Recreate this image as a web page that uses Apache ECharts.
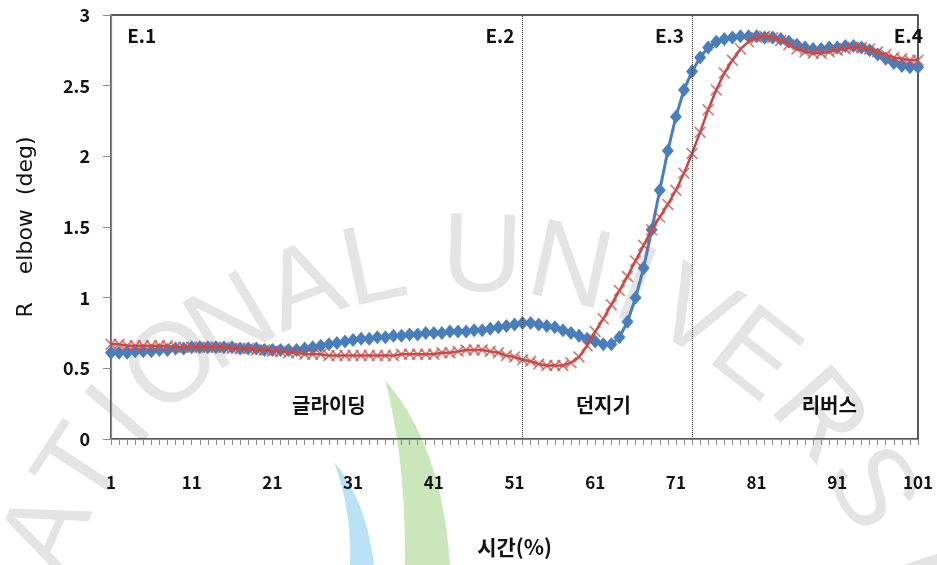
<!DOCTYPE html>
<html>
<head>
<meta charset="utf-8">
<script src="https://cdn.jsdelivr.net/npm/echarts@6/dist/echarts.min.js"></script>
<style>
  html, body { margin: 0; padding: 0; background: #fff; }
  #chart { width: 937px; height: 565px; }
</style>
</head>
<body>
<div id="chart"></div>
<script>
// Time axis: 1 … 101 (% of motion)
const categories = Array.from({ length: 101 }, (_, i) => String(i + 1));

// Right elbow angle, series with diamond markers
const seriesA = [
  0.61, 0.61, 0.61, 0.62, 0.62, 0.62, 0.63, 0.63, 0.64, 0.64,
  0.65, 0.65, 0.65, 0.65, 0.65, 0.65, 0.64, 0.64, 0.64, 0.63,
  0.63, 0.63, 0.63, 0.63, 0.64, 0.65, 0.66, 0.67, 0.68, 0.69,
  0.70, 0.71, 0.71, 0.72, 0.72, 0.73, 0.73, 0.74, 0.74, 0.75,
  0.75, 0.75, 0.76, 0.76, 0.76, 0.77, 0.77, 0.78, 0.79, 0.80,
  0.81, 0.82, 0.82, 0.81, 0.80, 0.79, 0.77, 0.75, 0.73, 0.71,
  0.69, 0.67, 0.67, 0.72, 0.83, 1.00, 1.21, 1.48, 1.76, 2.04,
  2.28, 2.47, 2.60, 2.70, 2.77, 2.81, 2.83, 2.84, 2.85, 2.85,
  2.85, 2.84, 2.84, 2.83, 2.81, 2.79, 2.77, 2.76, 2.76, 2.77,
  2.77, 2.78, 2.78, 2.77, 2.75, 2.72, 2.69, 2.66, 2.64, 2.63,
  2.63
];

// Right elbow angle, series with cross markers
const seriesB = [
  0.67, 0.67, 0.66, 0.66, 0.66, 0.66, 0.66, 0.66, 0.65, 0.65,
  0.65, 0.65, 0.65, 0.65, 0.65, 0.64, 0.64, 0.64, 0.63, 0.63,
  0.62, 0.62, 0.61, 0.61, 0.60, 0.60, 0.60, 0.59, 0.59, 0.59,
  0.59, 0.59, 0.59, 0.59, 0.59, 0.59, 0.60, 0.60, 0.60, 0.60,
  0.60, 0.61, 0.61, 0.62, 0.63, 0.63, 0.63, 0.62, 0.61, 0.59,
  0.58, 0.56, 0.55, 0.53, 0.52, 0.52, 0.52, 0.54, 0.58, 0.66,
  0.76, 0.85, 0.95, 1.05, 1.15, 1.26, 1.37, 1.48, 1.57, 1.66,
  1.76, 1.88, 2.02, 2.17, 2.33, 2.47, 2.59, 2.68, 2.76, 2.81,
  2.84, 2.85, 2.84, 2.82, 2.79, 2.76, 2.74, 2.73, 2.73, 2.74,
  2.75, 2.76, 2.77, 2.77, 2.76, 2.74, 2.72, 2.70, 2.69, 2.68,
  2.68
];

// Event markers (E.1 … E.4) and phase boundaries
const eventLines = ['52', '73'];
const eventLabels = [
  { text: 'E.1', cat: '3',  align: 'left'  },
  { text: 'E.2', cat: '51', align: 'right' },
  { text: 'E.3', cat: '72', align: 'right' },
  { text: 'E.4', cat: '98', align: 'left'  }
];
const phaseLabels = [
  { text: '글라이딩', cat: '28' },
  { text: '던지기',   cat: '62' },
  { text: '리버스',   cat: '90' }
];

const yTicks = { min: 0, max: 3, interval: 0.5 };

// Background university watermark letters on an arc
const watermark = ['A','T','I','O','N','A','L','U','N','I','V','E','R','S','I'];
const watermarkAngles = [-66, -57, -49, -40, -31, -21, -12, 1.5, 12.5, 21, 29, 38, 49, 60, 71];

const crossPath = 'path://M0,1 L1,0 L5,4 L9,0 L10,1 L6,5 L10,9 L9,10 L5,6 L1,10 L0,9 L4,5 Z';
const KR = '"Noto Sans CJK KR", "Noto Sans", sans-serif';

const chart = echarts.init(document.getElementById('chart'), null, { renderer: 'canvas' });

const wmGraphics = watermark.map((ch, i) => {
  const th = watermarkAngles[i] * Math.PI / 180;
  const cx = 470, cy = 720, r = 460;
  return {
    type: 'text',
    x: cx + r * Math.sin(th),
    y: cy - r * Math.cos(th),
    rotation: -th,
    z: -10,
    silent: true,
    style: {
      text: ch,
      fill: 'rgba(150,150,150,0.26)',
      font: 'normal 112px "Liberation Sans", Arial, sans-serif',
      align: 'center',
      verticalAlign: 'middle'
    }
  };
});

// Crescent shapes of the emblem, traced as polygons from two quadratic curves
function crescent(p0, c1, p1, p2, c2) {
  const pts = [];
  const q = (a, b, c, t) => (1 - t) * (1 - t) * a + 2 * (1 - t) * t * b + t * t * c;
  for (let i = 0; i <= 20; i++) {
    const t = i / 20;
    pts.push([q(p0[0], c1[0], p1[0], t), q(p0[1], c1[1], p1[1], t)]);
  }
  for (let i = 0; i <= 20; i++) {
    const t = i / 20;
    pts.push([q(p2[0], c2[0], p0[0], t), q(p2[1], c2[1], p0[1], t)]);
  }
  return pts;
}
const logoGraphics = [
  {
    type: 'polygon', z: -10, silent: true,
    shape: { points: crescent([385, 380], [442, 445], [450, 565], [405, 565], [406, 460]) },
    style: { fill: 'rgba(150,206,120,0.5)' }
  },
  {
    type: 'polygon', z: -10, silent: true,
    shape: { points: crescent([334, 462], [366, 500], [374, 565], [350, 565], [352, 510]) },
    style: { fill: 'rgba(120,196,236,0.5)' }
  }
];

chart.setOption({
  animation: false,
  backgroundColor: '#fff',
  grid: {
    left: 111, right: 19, top: 15, bottom: 126,
    outerBoundsMode: 'none',
    containLabel: false,
    show: true, borderColor: '#222', borderWidth: 1.5, backgroundColor: 'transparent'
  },
  xAxis: {
    type: 'category',
    data: categories,
    boundaryGap: false,
    name: '시간(%)',
    nameLocation: 'middle',
    nameGap: 98,
    nameTextStyle: { fontFamily: KR, fontSize: 21, fontWeight: 'bold', color: '#111' },
    axisLine: { lineStyle: { color: '#8a8a8a', width: 1.2 } },
    axisTick: { show: true, interval: 0, length: 6, lineStyle: { color: '#8a8a8a' } },
    axisLabel: {
      interval: 9, margin: 35,
      fontFamily: KR, fontSize: 17, fontWeight: 'bold', color: '#111'
    },
    splitLine: { show: false }
  },
  yAxis: {
    type: 'value',
    min: yTicks.min, max: yTicks.max, interval: yTicks.interval,
    name: 'R    elbow  (deg)',
    nameLocation: 'middle',
    nameGap: 74,
    nameRotate: 90,
    nameTextStyle: { fontFamily: '"DejaVu Sans", sans-serif', fontSize: 22, color: '#111' },
    axisLine: { show: true, lineStyle: { color: '#8a8a8a', width: 1.2 } },
    axisTick: { show: true, length: 8, lineStyle: { color: '#8a8a8a' } },
    axisLabel: {
      margin: 21,
      fontFamily: KR, fontSize: 18, fontWeight: 'bold', color: '#111'
    },
    splitLine: { show: false }
  },
  series: [
    {
      type: 'line',
      data: seriesA,
      symbol: 'diamond',
      showAllSymbol: true,
      symbolSize: [12, 14],
      lineStyle: { color: '#4a7ebb', width: 3 },
      itemStyle: { color: '#4a7ebb' },
      z: 3,
      markLine: {
        silent: true,
        symbol: 'none',
        label: { show: false },
        lineStyle: { color: '#333', type: 'dotted', width: 1 },
        data: eventLines.map(c => ({ xAxis: c }))
      }
    },
    {
      type: 'line',
      data: seriesB,
      symbol: crossPath,
      showAllSymbol: true,
      symbolSize: 12,
      lineStyle: { color: '#be4b48', width: 2.5 },
      itemStyle: { color: 'rgba(200,80,77,0.75)' },
      z: 4
    }
  ]
});

// Event and phase annotations anchored to axis coordinates
const toPx = (cat, val) => chart.convertToPixel({ xAxisIndex: 0, yAxisIndex: 0 }, [cat, val]);
const annot = [];
eventLabels.forEach(e => {
  const p = toPx(e.cat, 2.85);
  annot.push({
    type: 'text', x: p[0], y: p[1], z: 10, silent: true,
    style: {
      text: e.text, align: e.align, verticalAlign: 'middle',
      font: 'bold 19px ' + KR, fill: '#111'
    }
  });
});
phaseLabels.forEach(e => {
  const p = toPx(e.cat, 0.24);
  annot.push({
    type: 'text', x: p[0], y: p[1], z: 10, silent: true,
    style: {
      text: e.text, align: 'center', verticalAlign: 'middle',
      font: 'bold 20px ' + KR, fill: '#111'
    }
  });
});

chart.setOption({ graphic: wmGraphics.concat(logoGraphics, annot) });
</script>
</body>
</html>
